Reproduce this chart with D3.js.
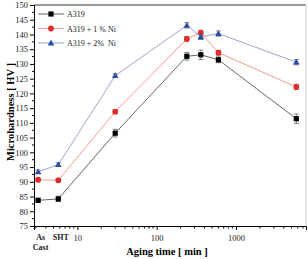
<!DOCTYPE html>
<html><head><meta charset="utf-8">
<script src="https://cdn.jsdelivr.net/npm/d3@7"></script>
<style>body{margin:0;background:#fff}svg{display:block}text{font-family:"Liberation Serif","Times New Roman",serif;white-space:pre}</style>
</head><body><svg id="c" width="308" height="259"></svg>
<script>
// x positions (min); As Cast and SHT are placed at nominal positions on the log axis
const times = [3.2, 5.75, 30, 240, 360, 600, 5760];
const seriesNames = ["A319", "A319 + 1 % Ni", "A319 + 2%  Ni"];
const a319 = [83.7, 84.2, 106.5, 132.6, 133.1, 131.4, 111.4];
const a319err = [0.7, 0.9, 1.3, 1.3, 1.6, 1.0, 1.6];
const ni1 = [90.7, 90.5, 113.8, 138.5, 140.6, 133.8, 122.2];
const ni1err = [0.6, 0.7, 0.7, 0.8, 0.8, 0.8, 0.9];
const ni2 = [93.4, 95.8, 126.0, 143.1, 139.2, 140.3, 130.6];
const ni2err = [0.6, 0.6, 0.6, 0.9, 0.9, 0.9, 0.9];
const yTicks = [75,80,85,90,95,100,105,110,115,120,125,130,135,140,145,150];
const xMajor = [10, 100, 1000];
const xMinor = [3,4,5,6,7,8,9,20,30,40,50,60,70,80,90,200,300,400,500,600,700,800,900,2000,3000,4000,5000,6000,7000];
const catLabels = [{v:3.2, lines:["As","Cast"]},{v:5.75, lines:["SHT"]}];

const svg = d3.select("#c");
const L=34, R=306, T=5, B=226;
const x = d3.scaleLog().domain([2.84, 7630]).range([L, R]);
const y = d3.scaleLinear().domain([75, 150]).range([B, T]);

// frame
svg.append("line").attr("x1",L).attr("x2",R).attr("y1",T).attr("y2",T).attr("stroke","#9a9a9a").attr("stroke-width",2);
svg.append("line").attr("x1",R).attr("x2",R).attr("y1",T).attr("y2",B).attr("stroke","#d0d0d0").attr("stroke-width",1);

// y axis
const yAx = svg.append("g").attr("transform",`translate(${L},0)`)
  .call(d3.axisLeft(y).tickValues(yTicks).tickSize(4).tickPadding(2).tickFormat(d3.format("d")));
yAx.select(".domain").attr("stroke","#000");
yAx.selectAll("text").attr("font-size","8.5px").attr("fill","#222");
const yMinor = d3.range(77.5, 150, 5);
svg.append("g").selectAll("line").data(yMinor).join("line")
  .attr("x1",L-2).attr("x2",L).attr("y1",d=>y(d)).attr("y2",d=>y(d)).attr("stroke","#000");

// x axis
const xAx = svg.append("g").attr("transform",`translate(0,${B})`)
  .call(d3.axisBottom(x).tickValues(xMajor).tickSize(4).tickPadding(5).tickFormat(d3.format("d")));
xAx.select(".domain").attr("stroke","#000");
xAx.selectAll("text").attr("font-size","8.5px").attr("fill","#222");
svg.append("g").selectAll("line").data(xMinor).join("line")
  .attr("x1",d=>x(d)).attr("x2",d=>x(d)).attr("y1",B).attr("y2",B+2.5).attr("stroke","#000");
// category labels
catLabels.forEach(c=>{
  const t = svg.append("text").attr("x",x(c.v)+2.5).attr("y",B+14).attr("text-anchor","middle")
    .attr("font-size","8px").attr("font-weight","bold").attr("fill","#222");
  c.lines.forEach((ln,i)=>t.append("tspan").attr("x",x(c.v)+2.5).attr("dy",i?9.5:0).text(ln));
});

// titles
svg.append("text").attr("x",167).attr("y",255).attr("text-anchor","middle").attr("font-size","10.5px")
  .attr("font-weight","bold").text("Aging time [ min ]");
svg.append("text").attr("transform","translate(14,112) rotate(-90)").attr("text-anchor","middle")
  .attr("font-size","10.5px").attr("font-weight","bold").text("Microhardness [ HV ]");

const series = [
  {name:seriesNames[0], v:a319, e:a319err, line:"#555", fill:"#000", shape:"square"},
  {name:seriesNames[1], v:ni1, e:ni1err, line:"#f0907c", fill:"#e52a2a", shape:"circle"},
  {name:seriesNames[2], v:ni2, e:ni2err, line:"#8d9ac4", fill:"#2b4ea6", shape:"triangle"}
];
function marker(g, s, cx, cy){
  if(s.shape==="square") g.append("rect").attr("x",cx-2.6).attr("y",cy-2.6).attr("width",5.2).attr("height",5.2).attr("fill",s.fill);
  else if(s.shape==="circle") g.append("circle").attr("cx",cx).attr("cy",cy).attr("r",2.9).attr("fill",s.fill);
  else g.append("path").attr("d",`M${cx},${cy-3.4}L${cx+3.3},${cy+2.4}L${cx-3.3},${cy+2.4}Z`).attr("fill",s.fill);
}
const line = d3.line().x(d=>x(d[0])).y(d=>y(d[1]));
series.forEach(s=>{
  const pts = times.map((t,i)=>[t, s.v[i], s.e[i]]);
  svg.append("path").attr("d",line(pts)).attr("fill","none").attr("stroke",s.line).attr("stroke-width",0.9);
  const g = svg.append("g");
  pts.forEach(p=>{
    const cx=x(p[0]);
    g.append("line").attr("x1",cx).attr("x2",cx).attr("y1",y(p[1]-p[2])).attr("y2",y(p[1]+p[2])).attr("stroke","#666").attr("stroke-width",0.8);
    [p[1]-p[2],p[1]+p[2]].forEach(v=>g.append("line").attr("x1",cx-2.5).attr("x2",cx+2.5).attr("y1",y(v)).attr("y2",y(v)).attr("stroke","#666").attr("stroke-width",0.8));
    marker(g, s, cx, y(p[1]));
  });
});

// legend
series.forEach((s,i)=>{
  const ly = 14 + i*14.5;
  svg.append("line").attr("x1",38).attr("x2",64).attr("y1",ly).attr("y2",ly).attr("stroke",s.line).attr("stroke-width",0.9);
  marker(svg, s, 51, ly);
  svg.append("text").attr("x",67).attr("y",ly+3).attr("font-size","8px").attr("fill","#222").text(s.name);
});
</script></body></html>
